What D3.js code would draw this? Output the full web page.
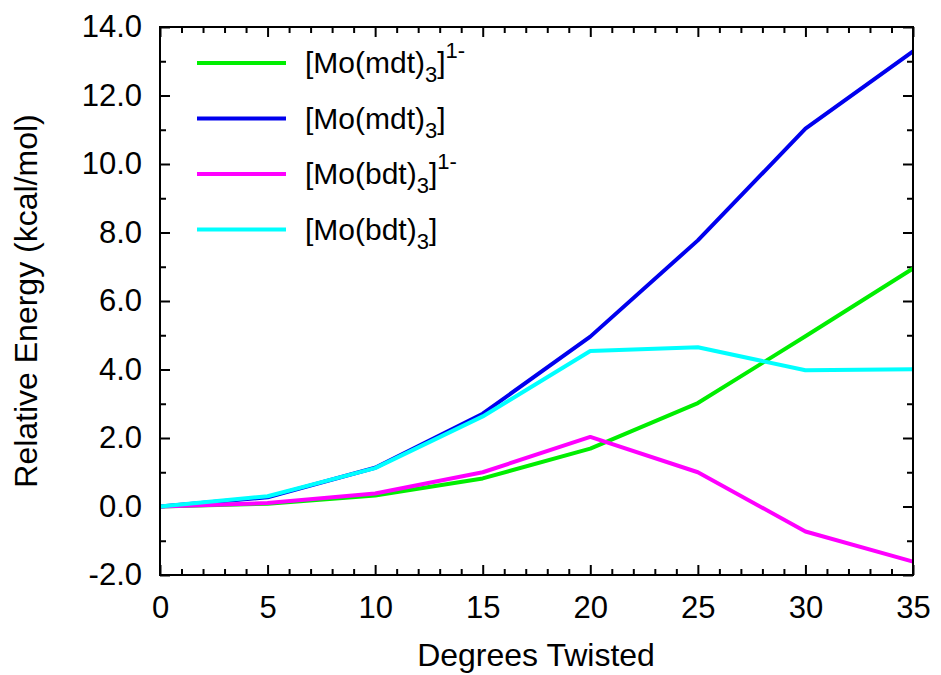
<!DOCTYPE html>
<html lang="en">
<head>
<meta charset="UTF-8">
<title>Relative Energy vs Degrees Twisted</title>
<script src="https://d3js.org/d3.v7.min.js"></script>
<style>
  body { margin: 0; background: #fff; }
  text { font-family: "Liberation Sans", Arial, Helvetica, sans-serif; fill: #000; }
</style>
</head>
<body>
<svg id="chart" width="941" height="675"></svg>
<script>
// degrees twisted
var degrees = [0, 5, 10, 15, 20, 25, 30, 35];

// relative energies (kcal/mol)
var moMdtAnion = [0, 0.08, 0.32, 0.82, 1.69, 3.02, 4.97, 6.95];
var moMdt      = [0, 0.27, 1.13, 2.71, 4.96, 7.77, 11.03, 13.29];
var moBdtAnion = [0, 0.1, 0.38, 1.0, 2.03, 1.0, -0.73, -1.61];
var moBdt      = [0, 0.3, 1.12, 2.63, 4.54, 4.65, 3.98, 4.01];

// legend parts
var ligands = ["mdt", "mdt", "bdt", "bdt"];
var charges = ["1-", "", "1-", ""];
var colors  = ["#00ee00", "#0000ee", "#ff00ff", "#00ffff"];
var series  = [moMdtAnion, moMdt, moBdtAnion, moBdt];

var yTicks = [-2, 0, 2, 4, 6, 8, 10, 12, 14];
var xTicks = [0, 5, 10, 15, 20, 25, 30, 35];

var svg = d3.select("#chart");
var mLeft = 160, mRight = 913, mTop = 27, mBottom = 575;

var x = d3.scaleLinear().domain([0, 35]).range([mLeft, mRight]);
var y = d3.scaleLinear().domain([-2, 14]).range([mBottom, mTop]);

var fmt = d3.formatLocale({decimal: ".", thousands: ",", grouping: [3], currency: ["", ""], minus: "-"}).format(".1f");

// minor ticks
var xMinor = d3.range(0, 36, 1).filter(function(d) { return d % 5 != 0; });
var yMinor = d3.range(-1, 14, 2);

function styleAxis(g) {
  g.select(".domain").remove();
  g.selectAll(".tick line").attr("stroke", "#000").attr("stroke-width", 2);
  g.selectAll("text").style("font-size", "31px").attr("fill", "#000");
}

svg.append("g").attr("transform", "translate(0," + mBottom + ")")
  .call(d3.axisBottom(x).tickValues(xTicks).tickSize(-10).tickPadding(21).tickFormat(d3.format("d")))
  .call(styleAxis);
svg.append("g").attr("transform", "translate(0," + mBottom + ")")
  .call(d3.axisBottom(x).tickValues(xMinor).tickSize(-6).tickFormat(""))
  .call(styleAxis);
svg.append("g").attr("transform", "translate(0," + mTop + ")")
  .call(d3.axisTop(x).tickValues(xTicks).tickSize(-10).tickFormat(""))
  .call(styleAxis);
svg.append("g").attr("transform", "translate(0," + mTop + ")")
  .call(d3.axisTop(x).tickValues(xMinor).tickSize(-6).tickFormat(""))
  .call(styleAxis);

svg.append("g").attr("transform", "translate(" + mLeft + ",0)")
  .call(d3.axisLeft(y).tickValues(yTicks).tickSize(-10).tickPadding(18).tickFormat(fmt))
  .call(styleAxis);
svg.append("g").attr("transform", "translate(" + mLeft + ",0)")
  .call(d3.axisLeft(y).tickValues(yMinor).tickSize(-6).tickFormat(""))
  .call(styleAxis);
svg.append("g").attr("transform", "translate(" + mRight + ",0)")
  .call(d3.axisRight(y).tickValues(yTicks).tickSize(-10).tickFormat(""))
  .call(styleAxis);
svg.append("g").attr("transform", "translate(" + mRight + ",0)")
  .call(d3.axisRight(y).tickValues(yMinor).tickSize(-6).tickFormat(""))
  .call(styleAxis);

// lines
var line = d3.line()
  .x(function(d, i) { return x(degrees[i]); })
  .y(function(d) { return y(d); });

series.forEach(function(s, i) {
  svg.append("path")
    .datum(s)
    .attr("fill", "none")
    .attr("stroke", colors[i])
    .attr("stroke-width", 4)
    .attr("stroke-linejoin", "round")
    .attr("d", line);
});

// frame
svg.append("rect")
  .attr("x", mLeft).attr("y", mTop)
  .attr("width", mRight - mLeft).attr("height", mBottom - mTop)
  .attr("fill", "none").attr("stroke", "#000").attr("stroke-width", 2);

// legend
var legend = svg.append("g");
ligands.forEach(function(lig, i) {
  var ly = 63 + i * 55.5;
  legend.append("line")
    .attr("x1", 197).attr("x2", 286)
    .attr("y1", ly).attr("y2", ly)
    .attr("stroke", colors[i]).attr("stroke-width", 4);
  var t = legend.append("text")
    .attr("x", 305).attr("y", ly + 10)
    .style("font-size", "30px");
  t.append("tspan").text("[Mo(" + lig + ")");
  t.append("tspan").text("3").style("font-size", "22px").attr("dy", 9);
  t.append("tspan").text("]").attr("dy", -9);
  if (charges[i]) {
    t.append("tspan").text(charges[i]).style("font-size", "22px").attr("dy", -15);
  }
});

// axis titles
svg.append("text")
  .attr("x", 536).attr("y", 666)
  .attr("text-anchor", "middle")
  .style("font-size", "32px")
  .text("Degrees Twisted");

svg.append("text")
  .attr("transform", "translate(37,301) rotate(-90)")
  .attr("text-anchor", "middle")
  .style("font-size", "32px")
  .text("Relative Energy (kcal/mol)");
</script>
</body>
</html>
